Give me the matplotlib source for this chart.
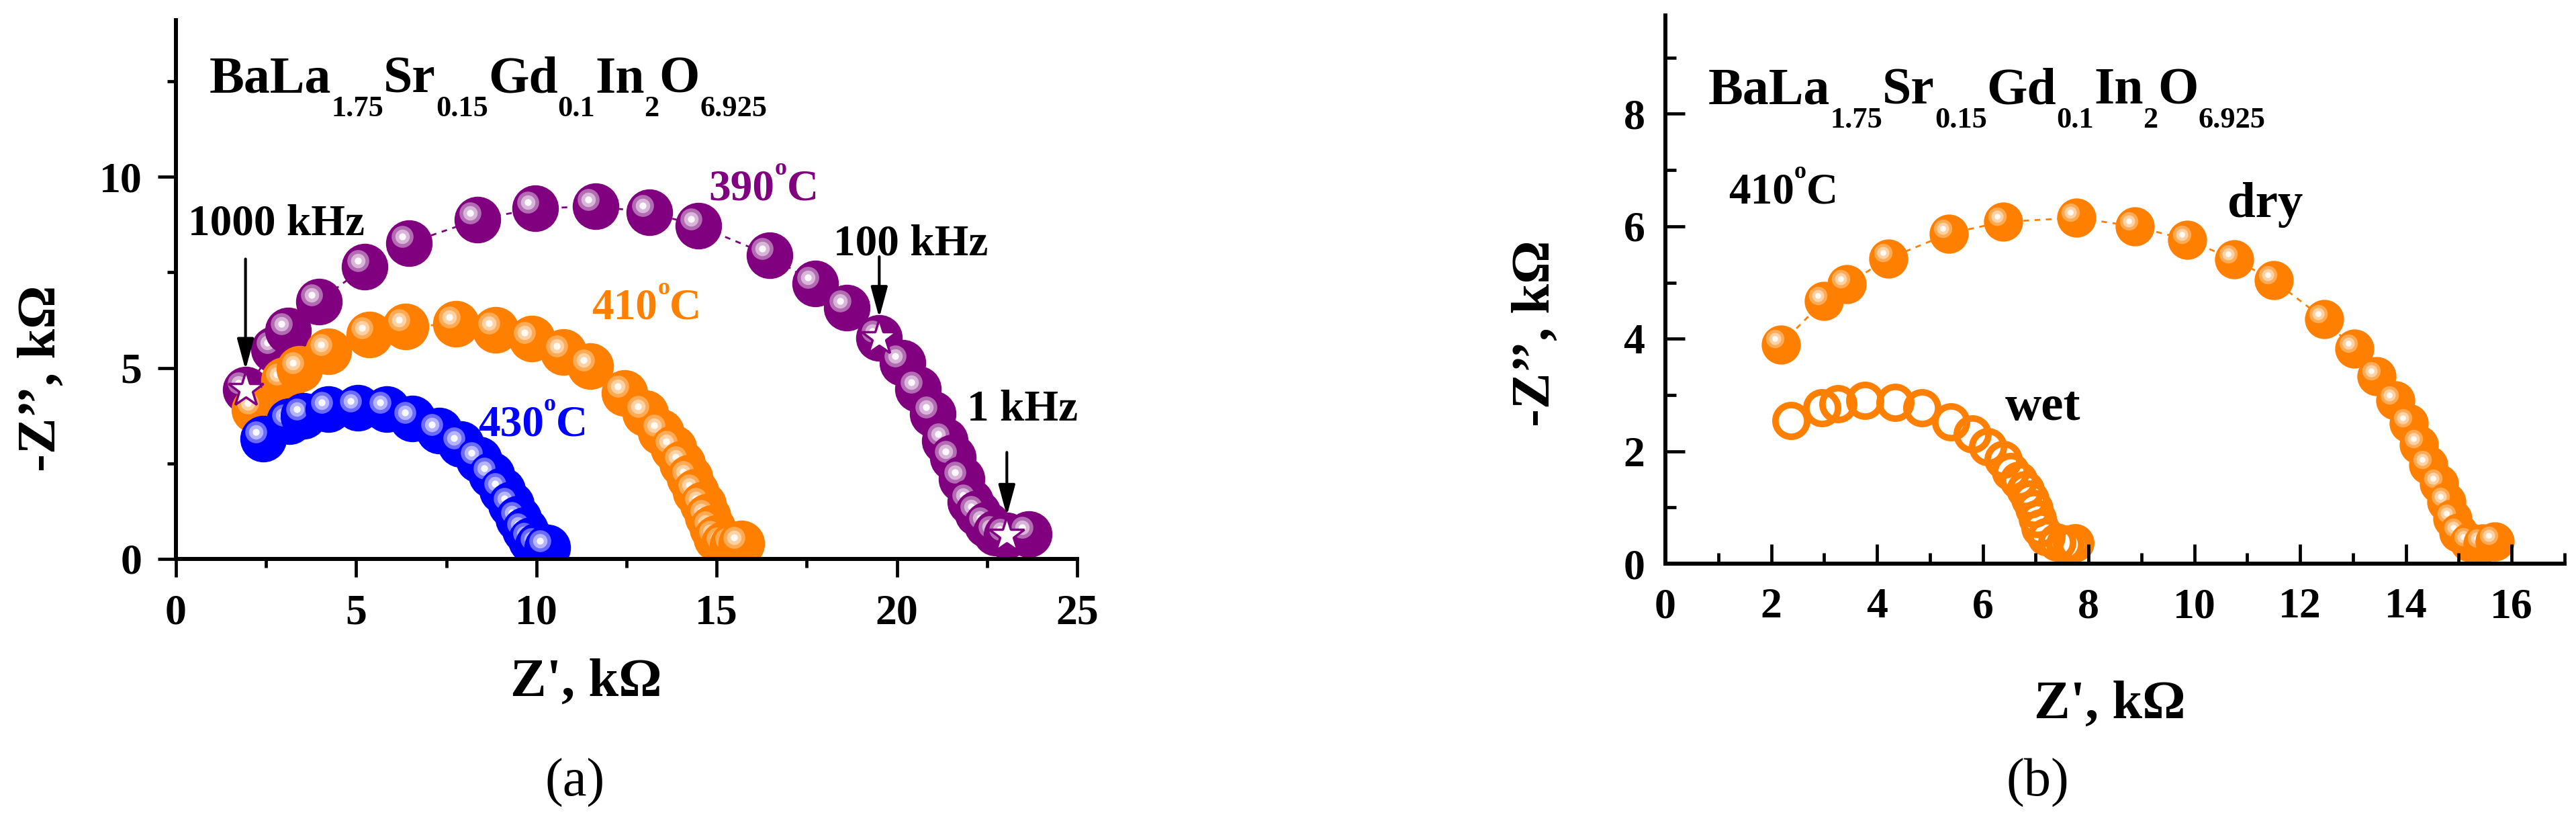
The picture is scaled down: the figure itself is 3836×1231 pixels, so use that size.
import matplotlib
matplotlib.use('Agg')
from matplotlib import pyplot as plt
from matplotlib import transforms
from matplotlib.ticker import MultipleLocator

plt.rcParams['font.family'] = ['Liberation Serif', 'DejaVu Serif']
plt.rcParams['font.weight'] = 'bold'

# impedance data, kOhm
re_390 = [1.93, 2.72, 3.11, 3.96, 5.24, 6.47, 8.36, 9.96, 11.64, 13.14, 14.49, 16.46, 17.73, 18.61,
          19.51, 20.15, 20.59, 21.0, 21.33, 21.55, 21.8, 22.03, 22.25, 22.5, 22.75, 23.05, 23.66]
im_390 = [4.43, 5.49, 5.98, 6.74, 7.64, 8.27, 8.88, 9.17, 9.23, 9.07, 8.72, 7.95, 7.2, 6.58,
          5.79, 5.13, 4.45, 3.8, 3.1, 2.65, 2.1, 1.5, 1.2, 0.9, 0.68, 0.61, 0.65]

# 410 C, dry (same curve in both panels)
re_410 = [2.18, 2.99, 3.43, 4.22, 5.36, 6.38, 7.77, 8.87, 9.87, 10.75, 11.5, 12.45, 13.02, 13.45,
          13.8, 14.05, 14.25, 14.42, 14.62, 14.76, 14.88, 15.0, 15.2, 15.45, 15.68]
im_410 = [3.9, 4.67, 4.97, 5.43, 5.87, 6.08, 6.15, 6.0, 5.76, 5.41, 5.04, 4.35, 3.82, 3.33,
          2.9, 2.5, 2.12, 1.76, 1.42, 1.1, 0.8, 0.55, 0.38, 0.36, 0.4]

re_430 = [2.42, 3.15, 3.54, 4.23, 5.04, 5.85, 6.55, 7.3, 7.9, 8.4, 8.75, 9.05, 9.3, 9.5,
          9.68, 9.85, 10.05, 10.3]
im_430 = [3.15, 3.6, 3.75, 3.92, 3.96, 3.92, 3.67, 3.35, 3.0, 2.6, 2.2, 1.8, 1.42, 1.05,
          0.75, 0.5, 0.35, 0.3]

# 410 C, wet
re_wet = [2.38, 2.96, 3.26, 3.77, 4.34, 4.85, 5.39, 5.80, 6.10, 6.38, 6.52, 6.68, 6.81, 6.9,
          6.97, 7.03, 7.09, 7.2, 7.4, 7.55, 7.68, 7.75]
im_wet = [2.54, 2.77, 2.84, 2.90, 2.87, 2.77, 2.52, 2.31, 2.08, 1.85, 1.64, 1.48, 1.32, 1.15,
          0.98, 0.8, 0.63, 0.48, 0.38, 0.35, 0.35, 0.37]

# frequency marks on the 390 C curve
freq_labels = ['1000 kHz', '100 kHz', '1 kHz']
freq_idx = [0, 14, 25]

PURPLE = '#800080'
ORANGE = '#ff8000'
BLUE = '#0000ff'
rings_purple = ['#b26cb2', '#d9b5d9', '#fdf8fd']
rings_orange = ['#ffaa55', '#ffd1a3', '#fffaf4']
rings_blue = ['#6b6bff', '#b5b5ff', '#f8f8ff']

W, H = 3836, 1231


def draw_balls(ax, xs, ys, color, rings, ms, z0):
    """
    Shaded 'ball' markers, each drawn on top of the previous one.
    """
    hl = transforms.offset_copy(ax.transData, fig=ax.figure, x=-0.15*ms, y=0.14*ms, units='points')
    ax.plot(xs, ys, ls=(0, (3, 3)), color=color, lw=2, zorder=z0 - 1)
    for i, (x, y) in enumerate(zip(xs, ys)):
        z = z0 + 0.02*i
        ax.plot([x], [y], 'o', ms=ms, mfc=color, mec='none', zorder=z)
        for k, (c, f) in enumerate(zip(rings, [0.47, 0.31, 0.15])):
            ax.plot([x], [y], 'o', ms=ms*f, mfc=c, mec='none', zorder=z + 0.004*(k + 1), transform=hl)


def rich_text(ax, x, y, parts, size, color='k'):
    """
    Text with sub/superscript pieces; parts = [(text, kind)], kind in '', 'sub', 'sup'.
    """
    prev = ax.text(x, y, parts[0][0], fontsize=size, color=color, fontweight='bold',
                   va='baseline', ha='left', zorder=300)
    for s, kind in parts[1:]:
        if kind == 'sub':
            fs, dy = size*0.57, -0.46*size
        elif kind == 'sup':
            fs, dy = size*0.55, 0.57*size
        else:
            fs, dy = size, 0
        prev = ax.annotate(s, xy=(1, y), xycoords=(prev, 'data'), xytext=(0, dy),
                           textcoords='offset points', fontsize=fs, color=color,
                           fontweight='bold', va='baseline', ha='left', zorder=300)
    return prev


def style_axes(ax, direction, xpad, ypad, maj, mnr):
    for s in ['top', 'right']:
        ax.spines[s].set_visible(False)
    for s in ['left', 'bottom']:
        ax.spines[s].set_linewidth(4.3)
        ax.spines[s].set_zorder(200)
    ax.xaxis.set_zorder(200)
    ax.yaxis.set_zorder(200)
    ax.tick_params(which='both', direction=direction, width=3.4, labelsize=46)
    ax.tick_params(which='major', length=maj)
    ax.tick_params(which='minor', length=mnr)
    ax.tick_params(axis='x', which='major', pad=xpad)
    ax.tick_params(axis='y', which='major', pad=ypad)


formula = [('BaLa', ''), ('1.75', 'sub'), ('Sr', ''), ('0.15', 'sub'), ('Gd', ''), ('0.1', 'sub'),
           ('In', ''), ('2', 'sub'), ('O', ''), ('6.925', 'sub')]

fig = plt.figure(figsize=(W/100, H/100), dpi=100)

# ---------------- panel (a) ----------------
ax = fig.add_axes([262/W, (H - 832)/H, 1342/W, 802/H])
ax.set_xlim(0, 25)
ax.set_ylim(0, 14.1)
ax.xaxis.set_major_locator(MultipleLocator(5))
ax.xaxis.set_minor_locator(MultipleLocator(2.5))
ax.yaxis.set_major_locator(MultipleLocator(5))
ax.yaxis.set_minor_locator(MultipleLocator(2.5))
style_axes(ax, 'out', 18, 17, 19.5, 9.5)

draw_balls(ax, re_390, im_390, PURPLE, rings_purple, 50, 10)
draw_balls(ax, re_410, im_410, ORANGE, rings_orange, 50, 20)
draw_balls(ax, re_430, im_430, BLUE, rings_blue, 50, 30)

ax.plot([re_390[i] for i in freq_idx], [im_390[i] for i in freq_idx], '*', ms=40,
        mfc='white', mec=PURPLE, mew=2.5, zorder=90)

arrow_len = [2.9, 1.6, 1.66]
label_pos = [(0.33, 8.48), (18.24, 7.95), (21.95, 3.63)]
for i, L, (tx, ty), lab in zip(freq_idx, arrow_len, label_pos, freq_labels):
    x0, y0 = re_390[i], im_390[i] + 0.52
    ax.annotate('', xy=(x0, y0), xytext=(x0, y0 + L),
                arrowprops=dict(arrowstyle='-|>,head_length=1.4,head_width=0.38', lw=3,
                                color='k', shrinkA=0, shrinkB=0, mutation_scale=20),
                zorder=300)
    ax.text(tx, ty, lab, fontsize=47, fontweight='bold', va='baseline', ha='left', zorder=300)

rich_text(ax, 0.93, 12.21, formula, 56)
rich_text(ax, 14.78, 9.40, [('390', ''), ('o', 'sup'), ('C', '')], 47, PURPLE)
rich_text(ax, 11.54, 6.28, [('410', ''), ('o', 'sup'), ('C', '')], 47, ORANGE)
rich_text(ax, 8.38, 3.23, [('430', ''), ('o', 'sup'), ('C', '')], 47, BLUE)

ax.text(0.455, -0.254, "Z', kΩ", transform=ax.transAxes, fontsize=58, fontweight='bold',
        ha='center', va='baseline')
ax.text(-0.149, 0.335, "-Z’’, kΩ", transform=ax.transAxes, fontsize=58, fontweight='bold',
        ha='center', va='center', rotation=90)

# ---------------- panel (b) ----------------
bx = fig.add_axes([2480/W, (H - 839)/H, 1339/W, 816/H])
bx.set_xlim(0, 17)
bx.set_ylim(0, 9.75)
bx.xaxis.set_major_locator(MultipleLocator(2))
bx.xaxis.set_minor_locator(MultipleLocator(1))
bx.yaxis.set_major_locator(MultipleLocator(2))
bx.yaxis.set_minor_locator(MultipleLocator(1))
style_axes(bx, 'in', 26, 22, 21, 11.5)

draw_balls(bx, re_410, im_410, ORANGE, rings_orange, 42, 20)
bx.plot(re_wet, im_wet, 'o', ms=34, mfc='none', mec=ORANGE, mew=7, zorder=15)

rich_text(bx, 0.81, 8.18, formula, 56)
rich_text(bx, 1.19, 6.41, [('410', ''), ('o', 'sup'), ('C', '')], 47)
bx.text(10.63, 6.16, 'dry', fontsize=54, fontweight='bold', va='baseline', zorder=300)
bx.text(6.42, 2.56, 'wet', fontsize=54, fontweight='bold', va='baseline', zorder=300)

bx.text(0.494, -0.281, "Z', kΩ", transform=bx.transAxes, fontsize=58, fontweight='bold',
        ha='center', va='baseline')
bx.text(-0.144, 0.42, "-Z’’, kΩ", transform=bx.transAxes, fontsize=58, fontweight='bold',
        ha='center', va='center', rotation=90)

fig.text(856/W, (H - 1185)/H, '(a)', fontsize=58, fontweight='normal', ha='center', va='baseline')
fig.text(3034/W, (H - 1185)/H, '(b)', fontsize=58, fontweight='normal', ha='center', va='baseline')

fig.savefig('out.png', dpi=100)
